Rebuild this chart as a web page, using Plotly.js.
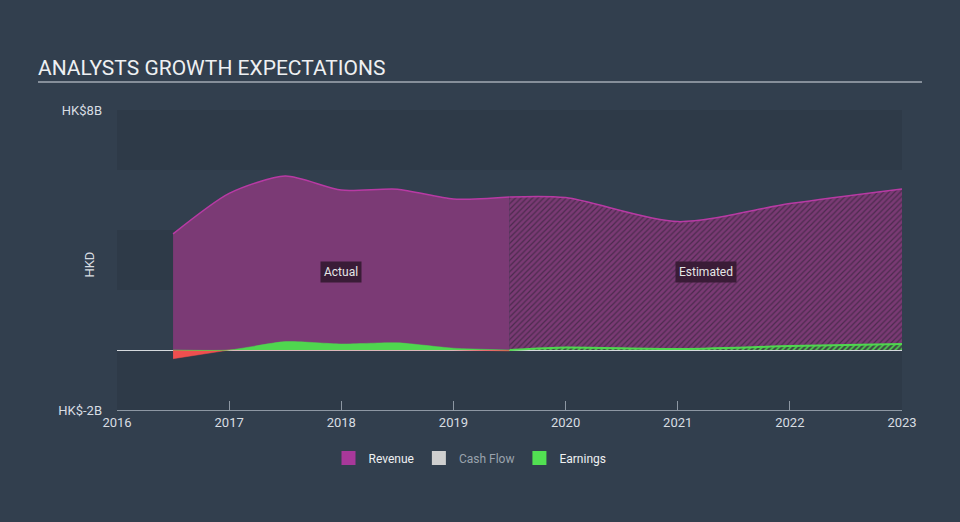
<!DOCTYPE html>
<html>
<head>
<meta charset="utf-8">
<script src="https://cdn.plot.ly/plotly-3.0.1.min.js"></script>
<style>
html,body{margin:0;padding:0;background:#323f4e;}
#chart{width:960px;height:522px;}
</style>
</head>
<body>
<div id="chart"></div>
<script>
// ---- data (HK$ billions) ----
const actualYears = [2016.5, 2017.0, 2017.5, 2018.0, 2018.5, 2019.0, 2019.5];
const actualRevenue = [3.87, 5.22, 5.8, 5.33, 5.36, 5.03, 5.1];
const actualEarnings = [-0.29, 0.0, 0.28, 0.2, 0.24, 0.06, -0.03];

const estYears = [2019.5, 2020.0, 2021.0, 2022.0, 2023.0];
const estRevenue = [5.1, 5.08, 4.28, 4.88, 5.37];
const estEarnings = [0.0, 0.08, 0.03, 0.13, 0.2];

const xTicks = [2016, 2017, 2018, 2019, 2020, 2021, 2022, 2023];
const yTickVals = [-2, 8];
const yTickText = ['HK$-2B', 'HK$8B'];
const bandRanges = [[6, 8], [2, 4], [-2, 0]];

// ---- colours ----
const REV_LINE = '#b83aa4';
const REV_FILL = '#7b3a75';
const GREEN = '#4fd64f';
const RED = '#ef4f4f';

const posEarn = actualEarnings.map(v => Math.max(v, 0));
const negEarn = actualEarnings.map(v => Math.min(v, 0));

const traces = [
  {x: actualYears, y: actualRevenue, type: 'scatter', mode: 'lines',
   line: {color: REV_LINE, width: 1.5, shape: 'spline', smoothing: 0.7},
   fill: 'tozeroy', fillcolor: REV_FILL, showlegend: false, hoverinfo: 'skip'},
  {x: estYears, y: estRevenue, type: 'scatter', mode: 'lines',
   line: {color: REV_LINE, width: 1.5, shape: 'spline', smoothing: 0.8},
   fill: 'tozeroy',
   fillpattern: {shape: '/', bgcolor: '#7a3a74', fgcolor: '#4c2b4e', size: 4, solidity: 0.3},
   showlegend: false, hoverinfo: 'skip'},
  {x: actualYears, y: negEarn, type: 'scatter', mode: 'lines',
   line: {color: RED, width: 0.5},
   fill: 'tozeroy', fillcolor: RED, showlegend: false, hoverinfo: 'skip'},
  {x: actualYears, y: posEarn, type: 'scatter', mode: 'lines',
   line: {color: GREEN, width: 0.5, shape: 'spline', smoothing: 0.6},
   fill: 'tozeroy', fillcolor: GREEN, showlegend: false, hoverinfo: 'skip'},
  {x: estYears, y: estEarnings, type: 'scatter', mode: 'lines',
   line: {color: GREEN, width: 2, shape: 'spline', smoothing: 0.6},
   fill: 'tozeroy',
   fillpattern: {shape: '/', bgcolor: '#3d4a44', fgcolor: '#4fd64f', size: 4, solidity: 0.4},
   showlegend: false, hoverinfo: 'skip'},
  // legend entries
  {x: [null], y: [null], type: 'scatter', mode: 'markers', name: 'Revenue',
   marker: {symbol: 'square', size: 14, color: '#a8389a'}},
  {x: [null], y: [null], type: 'scatter', mode: 'markers',
   name: '<span style="color:#9aa3ad">Cash Flow</span>',
   marker: {symbol: 'square', size: 14, color: '#cfcfcf'}},
  {x: [null], y: [null], type: 'scatter', mode: 'markers', name: 'Earnings',
   marker: {symbol: 'square', size: 14, color: '#52e052'}}
];

const shapes = bandRanges.map(r => ({
  type: 'rect', xref: 'paper', yref: 'y', x0: 0, x1: 1, y0: r[0], y1: r[1],
  fillcolor: 'rgba(0,0,0,0.07)', line: {width: 0}, layer: 'below'
}));
shapes.push({type: 'line', xref: 'paper', yref: 'paper',
  x0: (38 - 117) / 785, x1: (922 - 117) / 785, y0: 1.093, y1: 1.093,
  line: {color: '#a3abb4', width: 1.5}});

const layout = {
  width: 960, height: 522,
  paper_bgcolor: '#323f4e', plot_bgcolor: 'rgba(0,0,0,0)',
  margin: {l: 117, r: 58, t: 110, b: 112},
  font: {family: 'Roboto, "Open Sans", sans-serif', color: '#d8dde2', size: 12},
  title: {text: 'ANALYSTS GROWTH EXPECTATIONS', x: 38 / 960, xanchor: 'left',
          xref: 'container', y: 1 - 68 / 522, yanchor: 'middle', yref: 'container',
          font: {size: 21, color: '#eef0f2', family: 'Roboto, sans-serif'}},
  xaxis: {range: [2016, 2023], tickvals: xTicks, ticktext: xTicks.map(String),
          showgrid: false, zeroline: false, showline: true, linecolor: '#8d97a3', linewidth: 1,
          ticks: 'inside', ticklen: 9, tickcolor: '#8d97a3',
          tickfont: {size: 13, color: '#d8dde2'}, fixedrange: true},
  yaxis: {range: [-2, 8], tickvals: yTickVals, ticktext: yTickText,
          showgrid: false, zeroline: true, zerolinecolor: '#d5d9dd', zerolinewidth: 1,
          showline: false, ticks: '', ticklabelstandoff: 14,
          tickfont: {size: 13, color: '#d8dde2'}, fixedrange: true},
  shapes: shapes,
  annotations: [
    {text: 'Actual', x: 2018.0, y: 2.6, xref: 'x', yref: 'y', showarrow: false,
     bgcolor: '#3a1c37', borderpad: 3, font: {size: 12, color: '#e6e6e6'}},
    {text: 'Estimated', x: 2021.25, y: 2.6, xref: 'x', yref: 'y', showarrow: false,
     bgcolor: '#3a1c37', borderpad: 3, font: {size: 12, color: '#e6e6e6'}},
    {text: 'HKD', x: (80 - 117) / 785, y: 0.483, xref: 'paper', yref: 'paper',
     showarrow: false, textangle: -90, font: {size: 13, color: '#d8dde2'}}
  ],
  showlegend: true,
  legend: {orientation: 'h', x: (470 - 117) / 785, xanchor: 'center', y: -0.16, yanchor: 'middle',
           font: {size: 12, color: '#eef0f2'}, bgcolor: 'rgba(0,0,0,0)', itemclick: false,
           itemdoubleclick: false, tracegroupgap: 0}
};

Plotly.newPlot('chart', traces, layout, {displayModeBar: false, staticPlot: true});
</script>
</body>
</html>
